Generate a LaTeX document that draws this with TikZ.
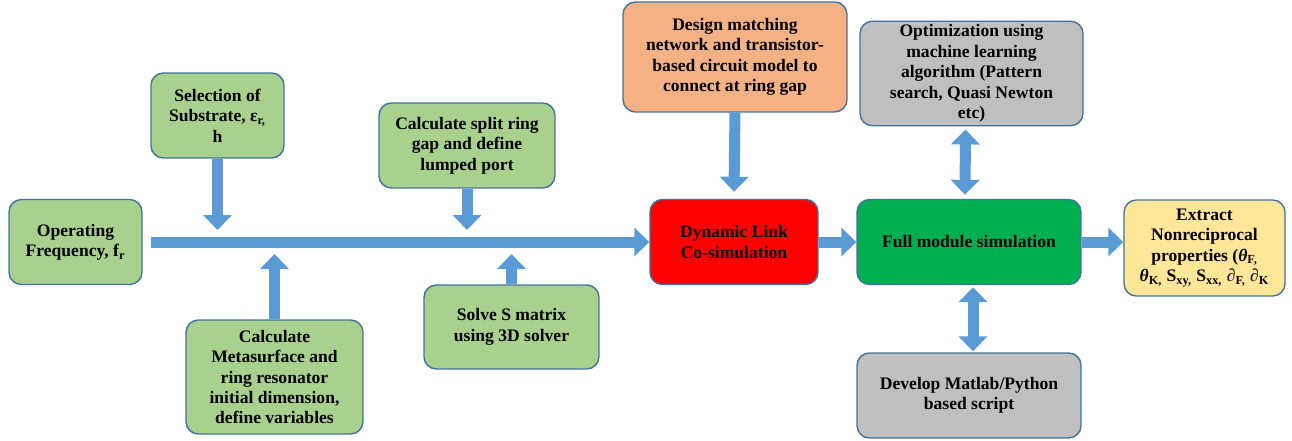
\documentclass[tikz,border=0pt]{standalone}
\usepackage{fontspec}
\setmainfont{Liberation Serif}
\usetikzlibrary{arrows.meta,calc}
\definecolor{edgeblue}{HTML}{41719C}
\definecolor{arrowblue}{HTML}{5B9BD5}
\definecolor{stepgreen}{HTML}{A9D18E}
\definecolor{designorange}{HTML}{F4B183}
\definecolor{linkred}{HTML}{FF0000}
\definecolor{simgreen}{HTML}{00B050}
\definecolor{scriptgrey}{HTML}{BFBFBF}
\definecolor{resultyellow}{HTML}{FFE699}
\tikzset{%
	block/.style={draw=edgeblue,line width=0.8pt,rounded corners=7pt,align=center,inner sep=2pt,
		font=\bfseries\fontsize{10}{11.6}\selectfont},
	flow/.style={arrowblue,line width=0.22cm,-{Triangle[width=0.56cm,length=0.3cm]}},
	flowboth/.style={arrowblue,line width=0.22cm,{Triangle[width=0.56cm,length=0.3cm]}-{Triangle[width=0.56cm,length=0.3cm]}},
}
\begin{document}
\begin{tikzpicture}[x=0.02cm,y=-0.02cm]
			\useasboundingbox (0,0) rectangle (1292,440);
			
			%INPUT STEPS
			\node[block,fill=stepgreen,minimum width=2.66cm,minimum height=1.7cm] (freq) at (75.5,242) {Operating\\Frequency, f\textsubscript{r}};
			\node[block,fill=stepgreen,minimum width=2.66cm,minimum height=1.7cm] (sub) at (217.5,115.5) {Selection of\\Substrate, ε\textsubscript{r,}\\h};
			\node[block,fill=stepgreen,minimum width=3.54cm,minimum height=2.28cm] (meta) at (274.5,377) {Calculate\\Metasurface and\\ring resonator\\initial dimension,\\define variables};
			\node[block,fill=stepgreen,minimum width=3.52cm,minimum height=1.7cm] (split) at (467,145.5) {Calculate split ring\\gap and define\\lumped port};
			\node[block,fill=stepgreen,minimum width=3.5cm,minimum height=1.68cm] (solve) at (511.5,327) {Solve S matrix\\using 3D solver};
			
			%CIRCUIT AND CO-SIMULATION
			\node[block,fill=designorange,minimum width=4.48cm,minimum height=2.2cm] (design) at (735,57) {Design matching\\network and transistor-\\based circuit model to\\connect at ring gap};
			\node[block,fill=linkred,minimum width=3.36cm,minimum height=1.7cm] (dyn) at (734,242) {Dynamic Link\\Co-simulation};
			
			%SIMULATION LOOP
			\node[block,fill=scriptgrey,minimum width=4.46cm,minimum height=2.06cm] (opt) at (971.5,73.5) {Optimization using\\machine learning\\algorithm (Pattern\\search, Quasi Newton\\etc)};
			\node[block,fill=simgreen,minimum width=4.48cm,minimum height=1.7cm] (full) at (969,242) {Full module simulation};
			\node[block,fill=scriptgrey,minimum width=4.48cm,minimum height=1.7cm] (dev) at (969,395.5) {Develop Matlab/Python\\based script};
			\node[block,fill=resultyellow,minimum width=3.22cm,minimum height=1.92cm] (ext) at (1204.5,248) {Extract\\Nonreciprocal\\properties (\textit{θ}\textsubscript{F,}\\\textit{θ}\textsubscript{K,} S\textsubscript{xy,} S\textsubscript{xx,} \textit{∂}\textsubscript{F,} \textit{∂}\textsubscript{K}};
			
			%MAIN LINE
			\coordinate (bt) at (0,230); %above the line
			\coordinate (bb) at (0,254); %below the line
			\draw[flow] ($(freq.east)+(8,0)$) -- (dyn.west);
			\draw[flow] (sub.south) -- (sub.south |- bt);
			\draw[flow] (split.south) -- (split.south |- bt);
			\draw[flow] (meta.north) -- (meta.north |- bb);
			\draw[flow] (solve.north) -- (solve.north |- bb);
			
			%ARROWS ON THE RIGHT
			\draw[flow] (design.south) -- ($(dyn.north)+(0,-7)$);
			\draw[flow] (dyn.east) -- (full.west);
			\draw[flow] (full.east) -- (full.east -| ext.west);
			\draw[flowboth] ($(opt.south)+(-6,3)$) -- ($(full.north)+(-4,-4)$);
			\draw[flowboth] ($(full.south)+(4,2)$) -- ($(dev.north)+(4,-1)$);
			
\end{tikzpicture}
\end{document}
